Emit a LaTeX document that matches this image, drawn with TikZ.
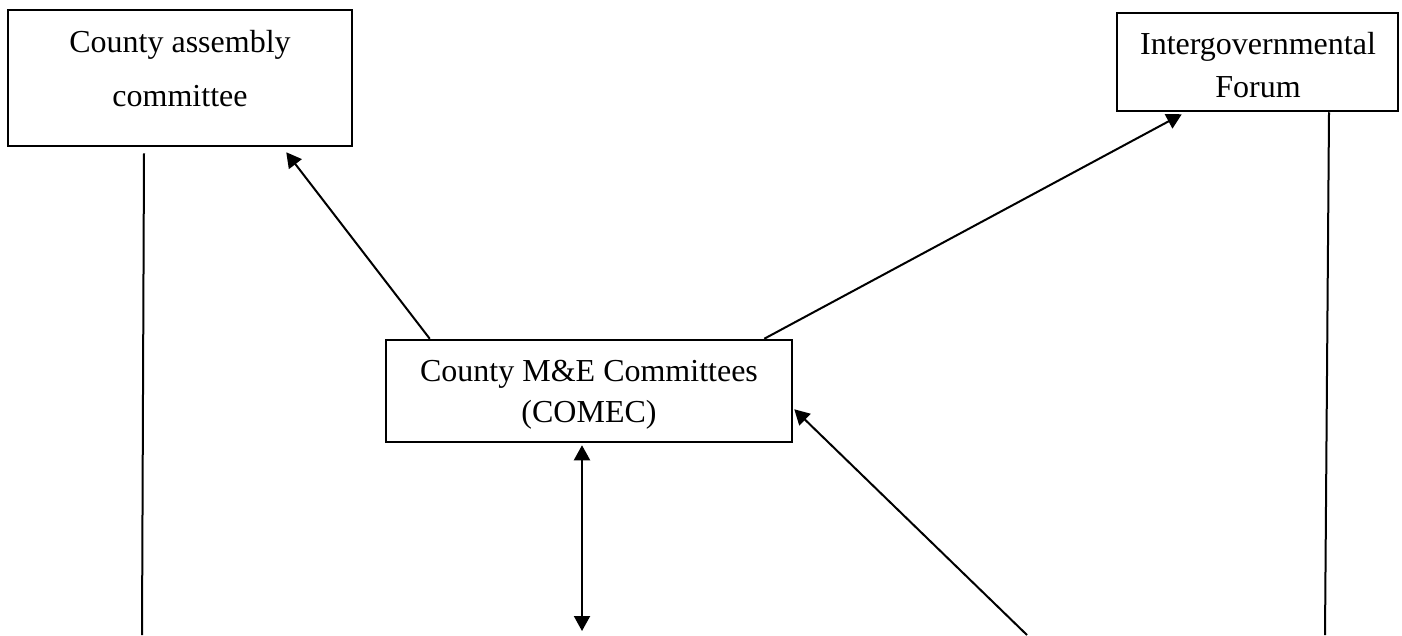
\documentclass[tikz,border=0pt]{standalone}
\usepackage{fontspec}
\setmainfont{Liberation Serif}
\usetikzlibrary{arrows.meta,calc}
\begin{document}
\begin{tikzpicture}[x=1pt,y=-1pt,
  box/.style={draw, line width=2.5pt, inner sep=0pt},
  txt/.style={anchor=base, inner sep=0pt, font=\fontsize{32}{38}\selectfont},
  conn/.style={line width=2pt},
  arr/.style={conn, -{Triangle[length=15pt,width=16pt]}},
  darr/.style={conn, {Triangle[length=15pt,width=16pt]}-{Triangle[length=15pt,width=16pt]}}]
\useasboundingbox (0,0) rectangle (1402,635);
% boxes
\node[box, minimum width=344pt, minimum height=136pt] (ca) at (180,78) {};
\node[box, minimum width=281pt, minimum height=98pt] (ig) at (1257.5,62) {};
\node[box, minimum width=406pt, minimum height=102pt] (comec) at (589,391) {};
% texts
\node[txt] (ca1) at (180,52) {County assembly};
\node[txt] (ca2) at (180,106) {committee};
\node[txt] (ig1) at (1258,54) {Intergovernmental};
\node[txt] (ig2) at (1258,97) {Forum};
\node[txt] (co1) at (589,381) {County M\&E Committees};
\node[txt] (co2) at (589,422) {(COMEC)};
% free ends
\coordinate (lb) at (142,635);
\coordinate (rb) at (1325,635);
\coordinate (mb) at (582,631);
\coordinate (db) at (1027,635);
% connectors
\draw[arr] ($(comec.north west)+(45,0)$) -- ($(ca.south east)+(-67,5)$);
\draw[arr] ($(comec.north east)+(-29,0)$) -- ($(ig.south west)+(66,2)$);
\draw[arr] (db) -- ($(comec.south east)+(1,-34)$);
\draw[darr] ($(comec.south)+(-7,2)$) -- (mb);
\draw[conn] ($(ca.south)+(-36,6)$) -- (lb);
\draw[conn] ($(ig.south)+(71.5,0)$) -- (rb);
\end{tikzpicture}
\end{document}
